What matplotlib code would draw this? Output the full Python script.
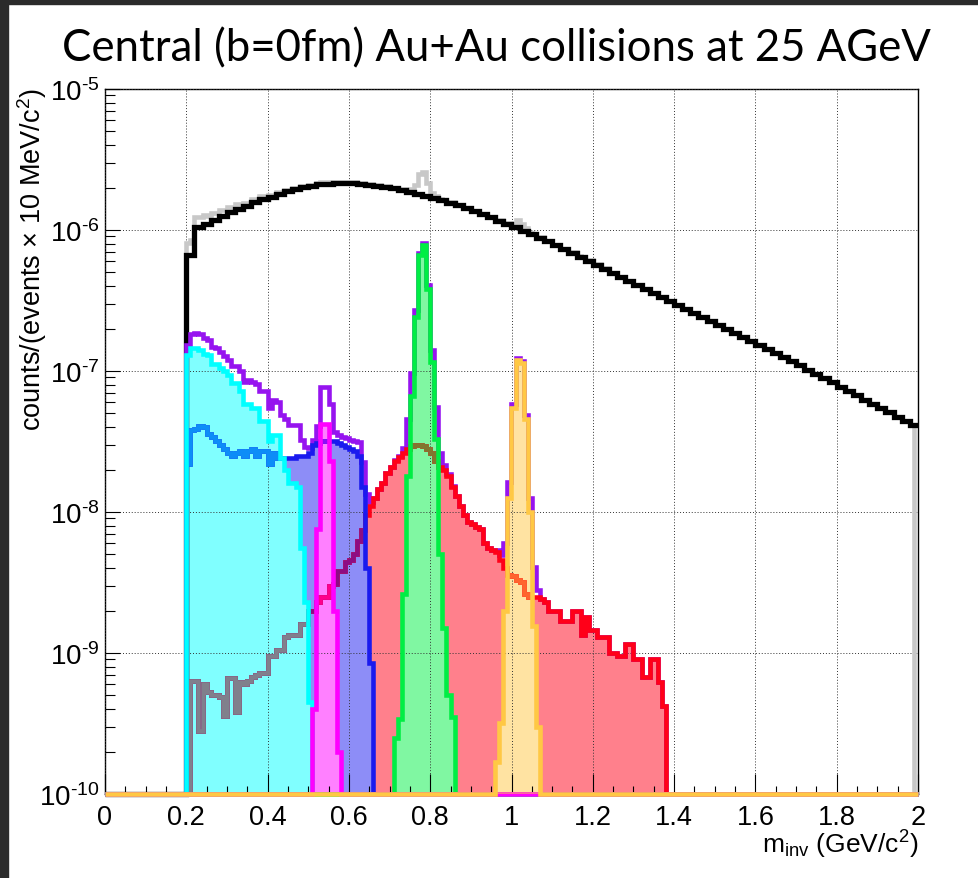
import numpy as np
import matplotlib
matplotlib.use("Agg")
import matplotlib.pyplot as plt
from matplotlib.patches import Rectangle
from matplotlib.colors import to_rgb
from matplotlib.ticker import MultipleLocator, LogLocator, NullFormatter, FuncFormatter

plt.rcParams['font.family'] = ['Liberation Sans', 'DejaVu Sans']
plt.rcParams['mathtext.fontset'] = 'custom'
plt.rcParams['mathtext.rm'] = 'Liberation Sans'
plt.rcParams['mathtext.it'] = 'Liberation Sans:italic'
plt.rcParams['mathtext.default'] = 'regular'

# histogram binning (GeV/c^2)
bin_width = 0.01
edges = np.round(np.arange(0, 2 + bin_width / 2, bin_width), 2)
nbins = len(edges) - 1
ymin, ymax = 1e-10, 1e-5

# thermal contribution, 20 MeV bins starting at 0.20
black_start = 0.20
black = [6.61e-7, 1.047e-6, 1.096e-6, 1.175e-6, 1.259e-6, 1.334e-6, 1.413e-6, 1.479e-6, 1.567e-6, 1.660e-6,
         1.718e-6, 1.799e-6, 1.884e-6, 1.950e-6, 2.018e-6, 2.065e-6, 2.104e-6, 2.128e-6, 2.143e-6, 2.148e-6,
         2.143e-6, 2.128e-6, 2.099e-6, 2.065e-6, 2.023e-6, 1.977e-6, 1.923e-6, 1.866e-6, 1.807e-6, 1.750e-6,
         1.687e-6, 1.622e-6, 1.556e-6, 1.493e-6, 1.426e-6, 1.361e-6, 1.294e-6, 1.230e-6, 1.167e-6, 1.107e-6,
         1.047e-6, 9.91e-7, 9.35e-7, 8.83e-7, 8.32e-7, 7.83e-7, 7.36e-7, 6.92e-7, 6.47e-7, 6.07e-7,
         5.68e-7, 5.32e-7, 4.98e-7, 4.66e-7, 4.37e-7, 4.08e-7, 3.83e-7, 3.58e-7, 3.36e-7, 3.14e-7,
         2.94e-7, 2.75e-7, 2.58e-7, 2.42e-7, 2.26e-7, 2.12e-7, 1.98e-7, 1.85e-7, 1.74e-7, 1.63e-7,
         1.52e-7, 1.43e-7, 1.34e-7, 1.25e-7, 1.17e-7, 1.10e-7, 1.02e-7, 9.53e-8, 8.89e-8, 8.30e-8,
         7.73e-8, 7.21e-8, 6.71e-8, 6.26e-8, 5.85e-8, 5.45e-8, 5.08e-8, 4.74e-8, 4.42e-8, 4.12e-8]

# cocktail components, 10 MeV bins
rho_start = 0.21
rho = [6.3e-10, 6.3e-10, 2.8e-10, 6.0e-10, 5.3e-10, 5.0e-10, 5.0e-10, 4.9e-10, 3.6e-10, 6.6e-10,
       6.6e-10, 3.8e-10, 6.2e-10, 6.0e-10, 6.3e-10, 6.8e-10, 7.0e-10, 7.2e-10, 7.2e-10, 9.5e-10,
       9.5e-10, 1.05e-9, 1.05e-9, 1.3e-9, 1.35e-9, 1.35e-9, 1.35e-9, 1.6e-9, 1.6e-9, 2.0e-9,
       2.0e-9, 2.3e-9, 2.5e-9, 2.5e-9, 3.0e-9, 3.1e-9, 3.8e-9, 3.8e-9, 4.4e-9, 4.6e-9,
       5.0e-9, 6.2e-9, 7.5e-9, 9.5e-9, 1.1e-8, 1.25e-8, 1.45e-8, 1.6e-8, 1.9e-8, 2.1e-8,
       2.3e-8, 2.45e-8, 2.6e-8, 2.8e-8, 2.95e-8, 3.0e-8, 3.0e-8, 2.95e-8, 2.8e-8, 2.6e-8,
       2.3e-8, 2.1e-8, 2.0e-8, 1.8e-8, 1.5e-8, 1.3e-8, 1.1e-8, 9.5e-9, 8.5e-9, 8.2e-9,
       7.8e-9, 7.6e-9, 6.0e-9, 5.6e-9, 5.4e-9, 5.2e-9, 4.6e-9, 4.0e-9, 3.6e-9, 3.5e-9,
       3.3e-9, 3.2e-9, 2.6e-9, 2.5e-9, 2.5e-9, 2.5e-9, 2.4e-9, 2.3e-9, 2.0e-9, 2.0e-9,
       2.0e-9, 1.7e-9, 1.7e-9, 1.7e-9, 2.0e-9, 2.0e-9, 1.35e-9, 1.8e-9, 1.45e-9, 1.45e-9,
       1.3e-9, 1.3e-9, 1.3e-9, 1.0e-9, 1.0e-9, 9.5e-10, 9.5e-10, 1.15e-9, 1.15e-9, 9.0e-10,
       9.0e-10, 6.8e-10, 6.8e-10, 9.0e-10, 9.0e-10, 6.2e-10, 4.2e-10]

omega_dalitz_start = 0.20
omega_dalitz = [2.2e-8, 3.8e-8, 3.9e-8, 4.1e-8, 4.0e-8, 3.6e-8, 3.4e-8, 3.2e-8, 3.0e-8, 2.8e-8,
                2.6e-8, 2.5e-8, 2.6e-8, 2.7e-8, 2.5e-8, 2.7e-8, 2.8e-8, 2.5e-8, 2.7e-8, 2.7e-8,
                2.2e-8, 2.6e-8, 2.4e-8, 2.4e-8, 2.4e-8, 2.4e-8, 2.4e-8, 2.5e-8, 2.5e-8, 2.5e-8,
                2.6e-8, 3.0e-8, 3.1e-8, 3.2e-8, 3.2e-8, 3.2e-8, 3.2e-8, 3.1e-8, 3.0e-8, 2.9e-8,
                2.8e-8, 2.7e-8, 2.5e-8, 1.5e-8, 4.0e-9, 8.5e-10]

eta_dalitz_start = 0.20
eta_dalitz = [1.30e-7, 1.45e-7, 1.45e-7, 1.42e-7, 1.32e-7, 1.30e-7, 1.13e-7, 1.13e-7, 1.05e-7, 1.00e-7,
              9.3e-8, 8.2e-8, 8.2e-8, 7.2e-8, 5.8e-8, 5.8e-8, 5.5e-8, 5.5e-8, 4.4e-8, 4.4e-8,
              3.2e-8, 3.5e-8, 3.5e-8, 2.4e-8, 2.0e-8, 1.6e-8, 1.6e-8, 1.5e-8, 5.6e-9, 2.3e-9,
              4.5e-10]

omega_start = 0.71
omega = [2.5e-10, 3.4e-10, 2.6e-9, 1.8e-8, 6.7e-8, 2.4e-7, 6.6e-7, 7.8e-7, 3.8e-7, 1.15e-7,
         3.3e-8, 5.0e-9, 1.5e-9, 5.0e-10, 3.5e-10]

eta_start = 0.51
eta = [4.0e-10, 7.6e-9, 4.2e-8, 4.2e-8, 2.3e-8, 2.0e-9, 2.0e-10]

phi_start = 0.96
phi = [1.7e-10, 3.2e-10, 2.0e-9, 1.26e-8, 5.5e-8, 1.2e-7, 1.14e-7, 4.6e-8, 1.0e-8, 1.55e-9, 3.0e-10]


def to_bins(start, vals, width=bin_width):
    h = np.zeros(nbins)
    reps = int(round(width / bin_width))
    i0 = int(round(start / bin_width))
    v = np.repeat(vals, reps)
    h[i0:i0 + len(v)] = v
    return h


h_black = to_bins(black_start, black, 0.02)
components = [
    (to_bins(rho_start, rho), '#ff0018'),
    (to_bins(omega_dalitz_start, omega_dalitz), '#1a1aee'),
    (to_bins(eta_dalitz_start, eta_dalitz), '#00ffff'),
    (to_bins(omega_start, omega), '#00ee44'),
    (to_bins(eta_start, eta), '#ff00ff'),
    (to_bins(phi_start, phi), '#ffc844'),
]
h_cocktail = np.sum([h for h, _ in components], axis=0)
h_total = h_black + h_cocktail
h_total[-1] = 0.0  # last bin of the sum is empty


def mix(c1, c2, f=0.5):
    a, b = np.array(to_rgb(c1)), np.array(to_rgb(c2))
    return tuple(f * a + (1 - f) * b)


def decade_label(v, pos):
    e = int(round(np.log10(v)))
    sign = '\u2010' if e < 0 else ''
    return f'$10^{{{sign}{abs(e)}}}$'


fig = plt.figure(figsize=(9.79, 8.79), dpi=100)
fig.patch.set_facecolor('white')
fig.patches.append(Rectangle((0, 0), 8 / 979, 1, transform=fig.transFigure, color='#2b2b2b', zorder=0))
fig.patches.append(Rectangle((0, 1 - 5 / 879), 1, 5 / 879, transform=fig.transFigure, color='#2b2b2b', zorder=0))

ax = fig.add_axes([105 / 979, 84 / 879, 813 / 979, 705 / 879])
ax.set_yscale('log')
ax.set_xlim(0, 2)
ax.set_ylim(ymin, ymax)

lw = 3.3
# outline-only histograms first, then the filled ones, in drawing order
hists = [(h_total, '#c8c8c8', False), (h_black, '#000000', False), (h_cocktail, '#9614ef', False)]
hists += [(h, c, True) for h, c in components]

fill_patches = {}
for k, (h, c, filled) in enumerate(hists):
    if filled:
        fill_patches[k] = ax.stairs(np.clip(h, ymin, None), edges, baseline=ymin, fill=True,
                                    color=mix(c, 'white'), lw=0, zorder=1 + 0.01 * k)

for k, (h, c, filled) in enumerate(hists):
    v = np.clip(h, ymin, None)
    width = 3.8 if k == 1 else lw
    line = ax.stairs(v, edges, baseline=None, color=c, lw=width, zorder=3 + k)
    line.set_clip_on(False)
    # dotted fill patterns of later histograms show through onto this line
    for j, patch in fill_patches.items():
        if j <= k:
            continue
        cj = hists[j][1]
        over = ax.stairs(v, edges, baseline=None, color=mix(c, cj), lw=width, zorder=3 + k + 0.05 + 0.01 * j)
        over.set_clip_path(patch)

ax.set_axisbelow(False)
ax.grid(True, which='major', linestyle=(0, (1, 2)), color='#333333', lw=0.7)

ax.xaxis.set_major_locator(MultipleLocator(0.2))
ax.xaxis.set_minor_locator(MultipleLocator(0.05))
ax.xaxis.set_major_formatter(FuncFormatter(lambda v, p: f'{v:g}'))
ax.yaxis.set_major_locator(LogLocator(base=10, numticks=20))
ax.yaxis.set_minor_locator(LogLocator(base=10, subs=np.arange(2, 10), numticks=20))
ax.yaxis.set_major_formatter(FuncFormatter(decade_label))
ax.yaxis.set_minor_formatter(NullFormatter())

ax.tick_params(which='both', direction='in', top=False, right=False, width=0.8, colors='black')
ax.tick_params(axis='x', which='major', length=14.4, labelsize=19.5, pad=7)
ax.tick_params(axis='x', which='minor', length=5.8)
ax.tick_params(axis='y', which='major', length=10.8, labelsize=20, pad=4)
ax.tick_params(axis='y', which='minor', length=7.2)
for s in ax.spines.values():
    s.set_linewidth(1.0)

fig.text(918 / 979, 1 - 845 / 879, 'm$_{inv}$ (GeV/c$^{2}$)', ha='right', va='center', fontsize=19)
fig.text(32 / 979, 1 - 88 / 879, 'counts/(events × 10 MeV/c$^{2}$)', rotation=90,
         ha='center', va='top', fontsize=19.5)

title = fig.text(496 / 979, 1 - 49 / 879, 'Central (b=0fm) Au+Au collisions at 25 AGeV',
                 ha='center', va='center', family=['Lato', 'DejaVu Sans'], fontsize=30)
fig.canvas.draw()
w = title.get_window_extent().width
title.set_fontsize(30 * 868 / w)

fig.savefig('out.png', dpi=100)
